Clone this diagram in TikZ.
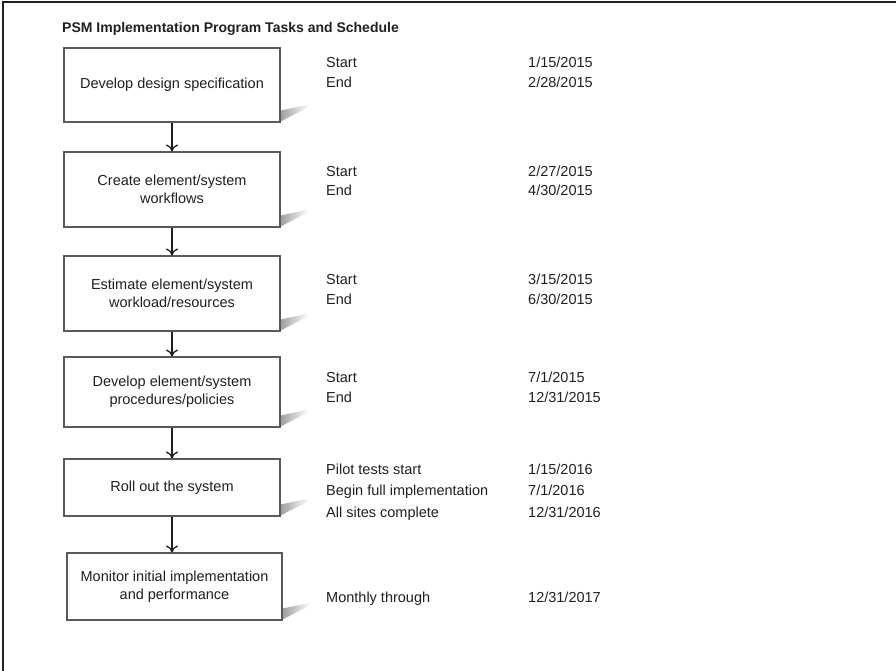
\documentclass[tikz,border=0pt]{standalone}
\usepackage{fontspec}
\setmainfont{Liberation Sans}
\usetikzlibrary{arrows.meta,calc}
\definecolor{ink}{HTML}{231F20}
\definecolor{boxline}{HTML}{5A5A5A}
\tikzset{
  taskbox/.style={draw=boxline, line width=1.1pt, fill=white, inner sep=0pt,
    minimum width=216pt, align=center, text=ink,
    font=\fontsize{14.5}{18}\selectfont},
  flow/.style={draw=ink, line width=1.3pt, -{To[length=7pt,width=12pt,line width=1.3pt]}},
  sched/.style={anchor=base west, inner sep=0pt, text=ink,
    font=\fontsize{14.5}{18}\selectfont},
  heading/.style={anchor=base west, inner sep=0pt, text=ink,
    font=\fontsize{14}{16}\selectfont\bfseries},
}
% soft page-curl shadow at the lower right corner of a box
\newcommand\curlshadow[1]{%
  \shade[left color=black!38, right color=white]
    ($(#1.south east)+(0,-1)$) -- ($(#1.south east)+(0,-12)$)
    -- ($(#1.south east)+(28,-18)$) -- ($(#1.south east)+(28,-15.5)$) -- cycle;}
\begin{document}
\begin{tikzpicture}[x=1pt, y=-1pt]
  \useasboundingbox (0,0) rectangle (896,671);
  % outer frame (left and top only)
  \draw[ink, line width=2pt] (896,2.5) -- (3,2.5) -- (3,671);

  \node[heading] (title) at (62,33) {PSM Implementation Program Tasks and Schedule};

  % task boxes
  \node[taskbox, minimum height=74pt] (b1) at (172,85) {Develop design specification};
  \node[taskbox, minimum height=75pt] (b2) at (172,189.5) {Create element/system\\workflows};
  \node[taskbox, minimum height=75pt] (b3) at (172,293.5) {Estimate element/system\\workload/resources};
  \node[taskbox, minimum height=70pt] (b4) at (172,392) {Develop element/system\\procedures/policies};
  \node[taskbox, minimum height=57pt] (b5) at (172,487.5) {Roll out the system};
  \node[taskbox, minimum height=67pt, minimum width=215pt] (b6) at (174.5,586.5) {Monitor initial implementation\\and performance};

  \foreach \b in {b1,b2,b3,b4,b5,b6} {\curlshadow{\b}}
  \foreach \b in {b1,b2,b3,b4,b5,b6} {\draw[boxline, line width=1.1pt] (\b.south west) rectangle (\b.north east);}

  % connectors
  \draw[flow] (b1.south) -- (b2.north);
  \draw[flow] (b2.south) -- (b3.north);
  \draw[flow] (b3.south) -- (b4.north);
  \draw[flow] (b4.south) -- (b5.north);
  \draw[flow] (b5.south) -- (b5.south |- b6.north);

  % schedule
  \node[sched] (s1a) at (326,68) {Start};      \node[sched] (d1a) at (528,68) {1/15/2015};
  \node[sched] (s1b) at (326,88) {End};        \node[sched] (d1b) at (528,88) {2/28/2015};
  \node[sched] (s2a) at (326,176) {Start};     \node[sched] (d2a) at (528,176) {2/27/2015};
  \node[sched] (s2b) at (326,196) {End};       \node[sched] (d2b) at (528,196) {4/30/2015};
  \node[sched] (s3a) at (326,284) {Start};     \node[sched] (d3a) at (528,284) {3/15/2015};
  \node[sched] (s3b) at (326,304) {End};       \node[sched] (d3b) at (528,304) {6/30/2015};
  \node[sched] (s4a) at (326,382) {Start};     \node[sched] (d4a) at (528,382) {7/1/2015};
  \node[sched] (s4b) at (326,402) {End};       \node[sched] (d4b) at (528,402) {12/31/2015};
  \node[sched] (s5a) at (326,474) {Pilot tests start};          \node[sched] (d5a) at (528,474) {1/15/2016};
  \node[sched] (s5b) at (326,495) {Begin full implementation};  \node[sched] (d5b) at (528,495) {7/1/2016};
  \node[sched] (s5c) at (326,517) {All sites complete};         \node[sched] (d5c) at (528,517) {12/31/2016};
  \node[sched] (s6a) at (326,602) {Monthly through};            \node[sched] (d6a) at (528,602) {12/31/2017};
\end{tikzpicture}
\end{document}
